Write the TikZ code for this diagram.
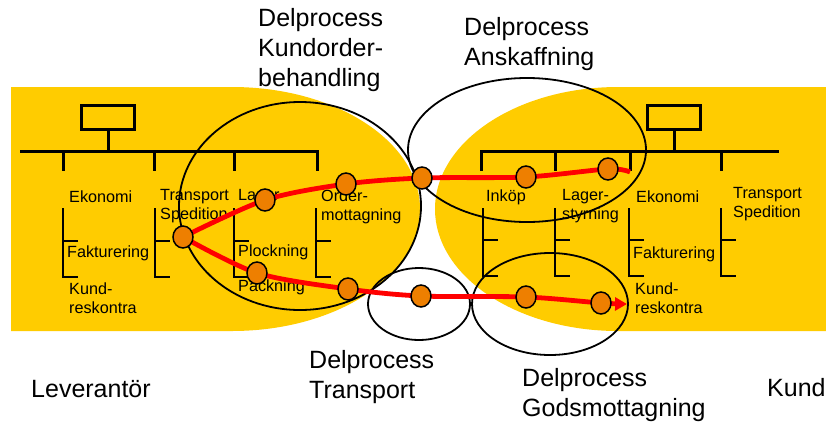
\documentclass[tikz,border=0pt]{standalone}
\usepackage{fontspec}
\setmainfont{Liberation Sans}
\usetikzlibrary{shapes.geometric,arrows.meta}
\definecolor{yel}{RGB}{255,204,0}
\definecolor{dotor}{RGB}{238,127,0}
\pgfdeclarelayer{bg}
\pgfdeclarelayer{mid}
\pgfsetlayers{bg,mid,main}
\begin{document}
\begin{tikzpicture}[x=1pt,y=-1pt,
 orgline/.style={line width=3pt},
 subline/.style={line width=2.4pt},
 orgbox/.style={draw,line width=2.7pt,minimum width=53pt,minimum height=24pt,inner sep=0},
 proc/.style={draw,ellipse,line width=1.8pt,inner sep=0},
 dot/.style={draw,ellipse,fill=dotor,line width=1.5pt,minimum width=20pt,minimum height=22pt,inner sep=0},
 redline/.style={red,line width=4.8pt},
 small/.style={font=\fontsize{16.2}{19}\selectfont,align=left,anchor=west,inner sep=0},
 big/.style={font=\fontsize{25}{30}\selectfont,align=left,anchor=west,inner sep=0}]

\useasboundingbox (0,0) rectangle (826,421);

% dots (top layer)
\node[dot] (d1) at (183,237) {};
\node[dot] (d2) at (265,200) {};
\node[dot] (d3) at (346,184) {};
\node[dot] (d4) at (422,178) {};
\node[dot] (d5) at (526,177) {};
\node[dot] (d6) at (608,169) {};
\node[dot] (d7) at (257,273) {};
\node[dot] (d8) at (348,289) {};
\node[dot] (d9) at (421,296) {};
\node[dot] (d10) at (526,297) {};
\node[dot] (d11) at (601,303) {};
\coordinate (uend) at (630,172);
\coordinate (aend) at (627,304);

\begin{pgfonlayer}{mid}
\draw[redline] plot[smooth,tension=0.5] coordinates {(d1.center) (d2.center) (d3.center) (d4.center) (d5.center) (d6.center) (uend)};
\draw[redline,-{Triangle[length=12pt,width=13pt]}] plot[smooth,tension=0.5] coordinates {(d1.center) (d7.center) (d8.center) (d9.center) (d10.center) (d11.center) (aend)};
\end{pgfonlayer}

\begin{pgfonlayer}{bg}
\fill[white] (0,0) rectangle (826,421);
% yellow areas
\fill[yel] (11,87) -- (232,87) arc[start angle=90,end angle=-90,x radius=188pt,y radius=122pt] -- (11,331) -- cycle;
\fill[yel] (826,87) -- (618,87) arc[start angle=90,end angle=270,x radius=183pt,y radius=122pt] -- (826,331) -- cycle;

% left org chart
\node[orgbox] (lbox) at (108,117.5) {};
\draw[orgline] (lbox.south) -- (108,151);
\draw[orgline] (20,151) -- (319,151);
\foreach \x in {63,154,234,317} \draw[orgline] (\x,151) -- (\x,171);
\foreach \x in {63,155,234,316} {
  \draw[subline] (\x,208) -- (\x,277) -- (\x+15,277);
  \draw[subline] (\x,241) -- (\x+15,241);
}
% right org chart
\node[orgbox] (rbox) at (674,117.5) {};
\draw[orgline] (rbox.south) -- (674,151);
\draw[orgline] (480,151) -- (779,151);
\foreach \x in {481,555,630,721} \draw[orgline] (\x,151) -- (\x,171);
\foreach \x in {483,555,629,721} {
  \draw[subline] (\x,208) -- (\x,276) -- (\x+15,276);
  \draw[subline] (\x,240) -- (\x+15,240);
}

% left texts
\node[small] (lek) at (69,197) {Ekonomi};
\node[small] (ltr) at (160,206.5) {Transport\\Spedition};
\node[small] (llag) at (238,197) {Lager};
\node[small] (lord) at (321,206.5) {Order-\\mottagning};
\node[small] (lfak) at (67,253) {Fakturering};
\node[small] (lkund) at (69,298) {Kund-\\reskontra};
\node[small] (lplo) at (238,252) {Plockning};
\node[small] (lpac) at (238,287) {Packning};
% right texts
\node[small] (rink) at (486,197) {Inköp};
\node[small] (rlag) at (562,206.5) {Lager-\\styrning};
\node[small] (rek) at (636,197) {Ekonomi};
\node[small] (rtr) at (733,204.5) {Transport\\Spedition};
\node[small] (rfak) at (633,254) {Fakturering};
\node[small] (rkund) at (635,298) {Kund-\\reskontra};

% process ellipses
\node[proc,minimum width=242pt,minimum height=208pt] (ekund) at (300,206) {};
\node[proc,minimum width=238pt,minimum height=144pt] (eansk) at (527,150) {};
\node[proc,minimum width=102pt,minimum height=72pt] (etrans) at (419,304) {};
\node[proc,minimum width=156pt,minimum height=102pt] (egods) at (550,304) {};

% big labels
\node[big] (tkund) at (258,50) {Delprocess\\Kundorder-\\behandling};
\node[big] (tansk) at (464,44.5) {Delprocess\\Anskaffning};
\node[big] (ttrans) at (309,377) {Delprocess\\Transport};
\node[big] (tgods) at (522,395) {Delprocess\\Godsmottagning};
\node[big] (tlev) at (31,389) {Leverantör};
\node[big] (tkd) at (767,388) {Kund};
\end{pgfonlayer}
\end{tikzpicture}
\end{document}
